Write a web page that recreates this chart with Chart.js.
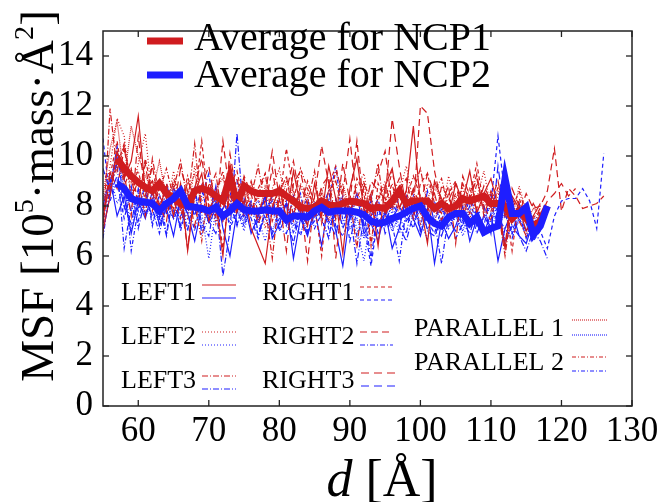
<!doctype html>
<html lang="en">
<head>
<meta charset="UTF-8" />
<title>MSF vs d</title>
<script src="https://cdn.jsdelivr.net/npm/chart.js"></script>
<style>
  html, body { margin: 0; padding: 0; background: #fff; }
</style>
</head>
<body>
<canvas id="msf-chart" width="664" height="502"></canvas>
<script>
// distance grid [Å], shared by all series
const dGrid = [55, 56, 57, 58, 59, 60, 61, 62, 63, 64,
               65, 66, 67, 68, 69, 70, 71, 72, 73, 74,
               75, 76, 77, 78, 79, 80, 81, 82, 83, 84,
               85, 86, 87, 88, 89, 90, 91, 92, 93, 94,
               95, 96, 97, 98, 99, 100, 101, 102, 103, 104,
               105, 106, 107, 108, 109, 110, 111, 112, 113, 114,
               115, 116, 117, 118, 119, 120, 121, 122, 123, 124,
               125, 126];

const xTicks = [60, 70, 80, 90, 100, 110, 120, 130];
const yTicks = [0, 2, 4, 6, 8, 10, 12, 14];

// averages
const avgNCP1 = [null, null, 9.9, 9.5, 9.2, 8.95, 8.75, 8.6, 8.9, 8.5,
                 8.3, 8.1, 8.0, 8.6, 8.7, 8.6, 8.4, 8.2, 9.2, 8.1,
                 8.8, 8.6, 8.5, 8.5, 8.5, 8.6, 8.4, 8.2, 7.95, 7.9,
                 7.95, 8.2, 8.05, 8.0, 8.1, 8.2, 8.15, 8.1, 7.9, 7.95,
                 7.9, 8.2, 8.6, 8.1, 8.2, 8.2, 8.2, 7.9, 8.1, 7.9,
                 8.0, 8.3, 8.2, 8.3, 8.4, 8.1, 8.1, 8.0, 7.5, 7.8,
                 7.5, 7.2, 7.4, 8.0];
const avgNCP2 = [null, null, 8.9, 8.7, 8.3, 8.2, 8.15, 8.1, 7.8, 8.1,
                 8.3, 8.6, 8.0, 7.95, 7.9, 7.8, 7.95, 7.6, 7.8, 8.1,
                 7.85, 7.8, 7.8, 7.85, 7.8, 7.8, 7.45, 7.6, 7.6, 7.55,
                 7.8, 7.95, 7.75, 7.8, 7.8, 7.8, 7.75, 7.65, 7.4, 7.3,
                 7.35, 7.5, 7.6, 7.75, 7.9, 8.0, 7.55, 7.3, 7.2, 7.55,
                 7.7, 7.7, 7.3, 7.55, 6.95, 7.1, 7.2, 9.1, 7.7, 7.7,
                 7.95, 6.85, 7.2, 8.0];

// NCP1 (red) individual runs
const left1_1 = [7.0, 8.4, 10.2, 9.1, 9.8, 11.6, 8.6, 9.0, 7.9, 8.8,
                 7.6, 8.9, 6.2, 8.5, 9.3, 7.4, 8.1, 6.0, 9.0, 7.8,
                 8.6, 7.1, 6.4, 5.7, 7.9, 8.8, 7.5, 9.4, 8.0, 7.2,
                 8.9, 7.6, 9.6, 8.3, 6.1, 8.7, 9.9, 7.8, 8.4, 6.4,
                 8.8, 9.5, 7.9, 8.6, 11.2, 8.1, 6.5, 9.0, 8.3, 7.6,
                 8.9, 8.2, 9.4, 7.7, 8.5, 9.1, 8.0, 6.3, 8.4, 7.9,
                 7.0, 7.6, 8.1];
const left2_1 = [8.1, 9.6, 11.5, 10.8, 8.4, 9.7, 10.9, 8.2, 9.1, 7.8,
                 9.4, 8.0, 7.5, 9.6, 8.2, 8.8, 7.3, 8.5, 9.2, 8.1,
                 7.6, 9.0, 8.4, 7.1, 8.7, 9.5, 8.0, 7.4, 8.9, 8.3,
                 7.7, 8.6, 9.1, 7.5, 8.4, 7.9, 8.8, 9.3, 7.6, 8.2,
                 9.0, 7.8, 8.5, 9.6, 8.1, 7.3, 8.9, 8.4, 7.7, 9.2,
                 8.0, 8.7, 7.5, 8.3, 9.4, 7.9, 8.6, 8.1, 7.4, 8.8,
                 7.8, 7.2];
const left3_1 = [6.9, 11.9, 9.4, 10.4, 8.3, 9.0, 7.6, 9.9, 8.4, 7.9,
                 8.7, 9.8, 8.1, 10.5, 7.7, 8.6, 9.3, 7.4, 8.2, 9.1,
                 7.9, 8.4, 9.6, 8.0, 5.9, 8.5, 9.2, 7.6, 8.8, 8.1,
                 9.4, 7.3, 8.6, 9.0, 7.8, 8.3, 6.3, 8.9, 8.2, 9.7,
                 7.6, 8.4, 9.1, 7.8, 8.6, 9.5, 8.0, 7.2, 8.8, 8.3,
                 7.7, 8.9, 8.2, 9.3, 7.6, 8.5, 7.9, 6.0, 8.1, 7.4,
                 6.8, 7.5, 7.9];
const right1_1 = [7.3, 9.2, 10.6, 8.8, 9.5, 8.1, 9.9, 8.5, 7.9, 8.9,
                  8.2, 7.5, 9.0, 8.4, 10.6, 7.9, 8.3, 6.3, 8.8, 9.4,
                  8.0, 7.6, 8.7, 9.3, 7.4, 8.2, 10.3, 8.6, 7.8, 9.0,
                  8.1, 6.0, 8.8, 9.6, 8.3, 7.6, 9.1, 8.5, 6.4, 8.9,
                  8.2, 9.4, 7.9, 8.6, 7.5, 8.9, 9.3, 8.1, 7.7, 8.5,
                  9.0, 7.8, 8.4, 9.7, 8.0, 7.4, 8.8, 8.2, 6.2, 8.3,
                  7.6, 6.9, 7.8];
const right2_1 = [7.8, 8.9, 10.1, 9.3, 7.6, 10.8, 8.4, 9.6, 8.0, 7.4,
                  9.1, 8.3, 6.3, 8.7, 9.9, 8.1, 7.6, 10.6, 8.4, 7.9,
                  9.2, 8.5, 7.3, 8.0, 9.5, 7.7, 8.6, 9.8, 8.2, 5.8,
                  8.4, 10.4, 8.9, 7.5, 9.7, 8.2, 10.6, 7.9, 8.5, 9.3,
                  10.2, 8.0, 8.6, 9.1, 7.8, 12.0, 11.7, 9.4, 8.1, 8.8,
                  6.5, 9.2, 8.4, 7.9, 8.8, 8.2, 9.0, 7.6, 8.3, 7.7,
                  8.5, 7.9, 8.0, 8.6, 10.3, 7.8, 8.7, 8.4, 7.9, 8.0,
                  8.1, 8.4];
const right3_1 = [7.5, 9.4, 8.7, 10.3, 9.0, 8.2, 9.7, 7.8, 8.9, 8.3,
                  7.9, 9.5, 8.6, 7.2, 8.8, 9.6, 8.0, 7.5, 10.1, 8.4,
                  8.1, 9.0, 7.7, 8.5, 10.2, 8.3, 6.2, 8.9, 9.4, 8.0,
                  7.6, 8.8, 9.2, 5.9, 8.5, 10.7, 8.1, 7.7, 9.0, 8.6,
                  8.3, 11.5, 9.6, 7.9, 8.7, 8.0, 9.3, 8.5, 7.4, 8.2,
                  8.9, 7.6, 8.3, 9.1, 7.8, 8.6, 8.1, 6.4, 8.7, 8.0,
                  7.4, 8.1, 7.6, 8.2, 8.5, 8.9, 8.4, 8.7];
const par1_1 = [8.4, 10.3, 11.4, 9.1, 11.2, 10.0, 9.2, 8.6, 9.8, 8.3,
                8.9, 7.8, 8.5, 9.3, 8.0, 7.6, 8.7, 9.1, 8.2, 7.9,
                8.6, 8.1, 7.5, 8.8, 8.3, 7.9, 9.0, 8.4, 7.7, 8.5,
                8.0, 8.7, 7.4, 8.2, 8.9, 7.8, 8.5, 8.1, 7.6, 8.3,
                8.8, 7.9, 8.4, 8.0, 8.6, 7.7, 8.3, 8.9, 8.1, 7.5,
                8.4, 8.0, 8.7, 7.8, 8.2, 8.5, 7.9, 8.3, 7.6, 8.1,
                7.3, 7.9, 7.7];
const par2_1 = [7.6, 8.7, 9.6, 10.5, 8.9, 9.4, 8.2, 9.0, 8.6, 9.5,
                8.3, 7.9, 9.2, 8.1, 6.6, 8.9, 8.5, 9.4, 7.6, 8.7,
                9.1, 7.8, 8.4, 9.3, 8.0, 8.6, 7.5, 8.2, 9.5, 8.7,
                7.9, 8.5, 8.0, 9.4, 8.6, 7.7, 8.3, 9.0, 6.5, 8.4,
                8.1, 8.9, 7.6, 8.3, 9.2, 8.4, 7.8, 8.6, 9.1, 7.9,
                8.5, 8.2, 7.7, 8.9, 8.3, 7.8, 8.4, 9.0, 7.9, 8.6,
                7.7, 7.1, 8.0];

// NCP2 (blue) individual runs
const left1_2 = [8.0, 9.1, 7.6, 8.4, 6.9, 8.2, 7.5, 8.6, 7.2, 7.9,
                 6.8, 8.3, 7.7, 6.6, 8.0, 7.4, 8.8, 7.1, 6.0, 7.8,
                 8.2, 6.9, 7.6, 8.4, 6.7, 7.3, 8.1, 5.9, 7.5, 6.8,
                 7.9, 6.4, 8.2, 7.0, 5.6, 7.7, 8.5, 6.9, 7.3, 6.6,
                 7.8, 6.3, 7.1, 8.4, 7.5, 6.8, 7.9, 5.7, 7.4, 6.7,
                 7.2, 8.0, 6.6, 7.5, 6.9, 7.7, 5.8, 7.1, 7.8, 6.8,
                 6.5, 7.4, 7.0];
const left2_2 = [7.2, 9.3, 8.1, 8.8, 7.0, 8.5, 7.9, 8.3, 7.4, 8.7,
                 7.6, 8.4, 7.1, 8.0, 7.7, 5.9, 7.9, 8.6, 7.3, 7.8,
                 7.0, 8.1, 7.5, 6.6, 7.9, 8.3, 7.2, 7.6, 6.9, 7.7,
                 8.2, 7.4, 6.8, 7.9, 7.3, 8.0, 7.1, 5.8, 7.6, 7.9,
                 7.2, 7.8, 6.9, 7.5, 8.1, 7.3, 6.7, 7.6, 8.0, 7.1,
                 7.7, 6.8, 7.4, 7.9, 7.0, 7.5, 8.2, 6.6, 7.3, 7.8,
                 6.9, 7.2, 7.5];
const left3_2 = [9.5, 8.6, 10.4, 7.9, 8.8, 7.1, 8.3, 7.6, 8.0, 6.8,
                 8.5, 7.2, 7.9, 8.6, 6.9, 7.5, 8.2, 5.2, 7.0, 10.9,
                 7.4, 8.1, 6.8, 7.7, 8.4, 7.0, 7.6, 6.5, 7.9, 7.3,
                 8.0, 7.5, 6.7, 8.3, 7.1, 7.8, 5.7, 7.6, 8.2, 6.9,
                 7.4, 8.0, 7.2, 6.6, 7.7, 8.3, 7.0, 6.8, 7.5, 7.9,
                 6.7, 7.3, 8.0, 6.9, 7.6, 7.1, 7.8, 6.5, 7.2, 6.8,
                 6.2, 7.0, 6.6, 5.9];
const right1_2 = [10.7, 8.2, 9.0, 7.5, 8.6, 7.8, 8.9, 7.3, 8.1, 7.7,
                  8.4, 7.0, 8.2, 7.6, 8.8, 7.3, 7.9, 8.5, 7.1, 7.8,
                  7.2, 8.0, 7.6, 8.3, 6.9, 7.5, 8.1, 7.4, 6.8, 7.9,
                  7.5, 8.2, 7.1, 7.7, 8.4, 6.6, 7.8, 7.3, 5.6, 7.6,
                  8.0, 7.2, 8.5, 7.7, 7.1, 8.2, 7.4, 6.9, 7.9, 7.5,
                  7.0, 7.8, 8.3, 7.2, 7.6, 8.1, 10.8, 8.4, 7.4, 8.1,
                  7.3, 6.6, 7.0, 6.3, 7.6, 8.2, 8.3, 8.3, 8.7, 8.2,
                  7.1, 10.1];
const right2_2 = [6.7, 8.8, 9.7, 6.3, 8.0, 7.4, 8.5, 7.9, 6.9, 8.2,
                  7.5, 8.1, 7.0, 8.7, 7.3, 6.8, 8.4, 7.6, 8.1, 7.2,
                  8.3, 7.5, 6.7, 7.9, 8.2, 7.1, 6.9, 7.8, 8.5, 7.0,
                  7.4, 7.9, 8.6, 7.2, 6.8, 7.5, 8.3, 7.7, 5.9, 7.9,
                  7.3, 8.1, 7.6, 6.9, 8.4, 7.0, 7.7, 7.4, 5.7, 7.6,
                  8.0, 7.4, 6.9, 7.8, 7.2, 8.5, 7.5, 7.1, 6.7, 7.6,
                  7.9, 7.3, 7.7];
const right3_2 = [7.9, 8.5, 9.2, 8.0, 7.3, 8.7, 7.7, 8.3, 7.5, 8.9,
                  7.8, 7.2, 8.5, 7.6, 8.1, 7.4, 6.9, 7.9, 8.6, 7.3,
                  7.7, 8.2, 7.0, 7.5, 8.0, 7.7, 7.2, 8.4, 7.6, 6.9,
                  7.8, 8.1, 7.4, 6.8, 8.2, 7.5, 7.9, 7.2, 7.6, 8.3,
                  6.9, 7.5, 8.0, 7.4, 7.8, 7.1, 8.6, 7.3, 6.8, 7.7,
                  7.4, 7.9, 7.2, 7.6, 8.0, 6.9, 9.6, 7.5, 7.0, 7.7,
                  6.7, 7.4, 7.1];
const par1_2 = [8.3, 8.9, 10.2, 8.6, 7.8, 8.4, 7.6, 8.1, 7.3, 8.0,
                7.5, 8.2, 7.7, 8.6, 7.1, 7.9, 8.3, 7.4, 7.8, 8.0,
                7.3, 7.9, 8.2, 7.5, 7.0, 7.8, 8.1, 7.2, 7.7, 6.9,
                7.6, 8.0, 7.3, 7.8, 8.3, 7.1, 7.5, 6.7, 7.9, 7.4,
                7.7, 7.0, 7.6, 8.1, 7.4, 7.8, 7.1, 7.5, 7.9, 7.2,
                7.6, 7.0, 7.8, 7.3, 7.5, 8.0, 7.2, 7.7, 6.9, 7.4,
                7.1, 6.8, 7.6];
const par2_2 = [7.0, 8.4, 10.0, 9.1, 6.2, 7.9, 8.8, 7.2, 8.5, 6.9,
                8.8, 7.6, 8.1, 7.0, 8.4, 9.3, 7.4, 7.9, 8.0, 9.0,
                7.6, 8.0, 7.3, 8.5, 7.7, 7.2, 8.2, 6.9, 7.8, 8.3,
                7.1, 7.7, 8.2, 9.6, 7.4, 7.9, 6.8, 7.6, 8.4, 7.2,
                7.8, 7.3, 5.8, 7.9, 8.3, 7.0, 7.6, 8.2, 7.1, 7.5,
                7.9, 7.2, 8.4, 7.6, 6.8, 7.4, 8.0, 7.7, 6.9, 7.5,
                7.0, 7.6, 7.2];

const RED = '#d01c1f';
const BLUE = '#1e1eff';
const SERIF = "'Liberation Serif', 'DejaVu Serif', serif";

// dash styles per run type
const dashes = {
  left1: [], left2: [1, 2], left3: [6, 2, 1, 2],
  right1: [4, 3], right2: [7, 4], right3: [8, 5],
  par1: [1, 1], par2: [4, 2, 1, 2]
};
const blueDashes = Object.assign({}, dashes, { right2: [5, 2, 1, 2] });

function toPoints(vals) {
  return dGrid.map((x, i) => ({ x: x, y: vals[i] === undefined ? null : vals[i] }));
}

function thin(vals, color, dash) {
  return {
    data: toPoints(vals), borderColor: color, borderWidth: 1.2, borderDash: dash,
    pointRadius: 0, tension: 0, spanGaps: false, order: 2
  };
}

const datasets = [
  { data: toPoints(avgNCP2), borderColor: BLUE, borderWidth: 7, pointRadius: 0, order: 0, borderJoinStyle: 'miter' },
  { data: toPoints(avgNCP1), borderColor: RED, borderWidth: 7, pointRadius: 0, order: 1, borderJoinStyle: 'miter' },
  thin(left1_1, RED, dashes.left1), thin(left2_1, RED, dashes.left2), thin(left3_1, RED, dashes.left3),
  thin(right1_1, RED, dashes.right1), thin(right2_1, RED, dashes.right2), thin(right3_1, RED, dashes.right3),
  thin(par1_1, RED, dashes.par1), thin(par2_1, RED, dashes.par2),
  thin(left1_2, BLUE, blueDashes.left1), thin(left2_2, BLUE, blueDashes.left2), thin(left3_2, BLUE, blueDashes.left3),
  thin(right1_2, BLUE, blueDashes.right1), thin(right2_2, BLUE, blueDashes.right2), thin(right3_2, BLUE, blueDashes.right3),
  thin(par1_2, BLUE, blueDashes.par1), thin(par2_2, BLUE, blueDashes.par2)
];

function seg(ctx, x1, y1, x2, y2) {
  ctx.beginPath(); ctx.moveTo(x1, y1); ctx.lineTo(x2, y2); ctx.stroke();
}

// draw text pieces one after another, superscripts smaller and raised
function richText(ctx, parts, x, y, size) {
  let cx = x;
  parts.forEach(p => {
    const s = p.sup ? size * 0.6 : size;
    ctx.font = (p.italic ? 'italic ' : '') + s + 'px ' + SERIF;
    ctx.fillText(p.t, cx, p.sup ? y - size * 0.42 : y);
    cx += ctx.measureText(p.t).width;
  });
  return cx - x;
}
function richWidth(ctx, parts, size) {
  let w = 0;
  parts.forEach(p => {
    const s = p.sup ? size * 0.6 : size;
    ctx.font = (p.italic ? 'italic ' : '') + s + 'px ' + SERIF;
    w += ctx.measureText(p.t).width;
  });
  return w;
}

const decorations = {
  id: 'decorations',
  afterDraw(chart) {
    const { ctx, chartArea: a, scales: { x, y } } = chart;
    ctx.save();
    // frame and inward ticks on all sides
    ctx.strokeStyle = '#222';
    ctx.lineWidth = 1.5;
    ctx.setLineDash([]);
    ctx.strokeRect(a.left, a.top, a.right - a.left, a.bottom - a.top);
    ctx.lineWidth = 1.3;
    x.ticks.forEach(t => {
      const px = x.getPixelForValue(t.value);
      seg(ctx, px, a.bottom, px, a.bottom - 6);
      seg(ctx, px, a.top, px, a.top + 6);
    });
    y.ticks.forEach(t => {
      const py = y.getPixelForValue(t.value);
      seg(ctx, a.left, py, a.left + 6, py);
      seg(ctx, a.right, py, a.right - 6, py);
    });

    ctx.fillStyle = '#000';
    ctx.textBaseline = 'alphabetic';
    ctx.textAlign = 'left';

    // y title
    const yParts = [{ t: 'MSF [10' }, { t: '5', sup: true }, { t: '·mass·Å' }, { t: '2', sup: true }, { t: ']' }];
    ctx.save();
    ctx.translate(53, 196);
    ctx.rotate(-Math.PI / 2);
    const yw = richWidth(ctx, yParts, 47);
    richText(ctx, yParts, -yw / 2, 0, 47);
    ctx.restore();

    // x title
    const xParts = [{ t: 'd', italic: true }, { t: ' [Å]' }];
    const xw = richWidth(ctx, xParts, 52);
    richText(ctx, xParts, 382 - xw / 2, 496, 52);

    // main legend (averages)
    ctx.lineWidth = 7;
    ctx.strokeStyle = RED; seg(ctx, 147, 41, 183, 41);
    ctx.strokeStyle = BLUE; seg(ctx, 147, 75, 183, 75);
    ctx.font = '40px ' + SERIF;
    ctx.fillText('Average for NCP1', 194, 50);
    ctx.fillText('Average for NCP2', 194, 87);

    // run-type legend
    ctx.font = '26px ' + SERIF;
    ctx.lineWidth = 1.1;
    const entries = [
      { label: 'LEFT1', key: 'left1', tx: 121, base: 300, lx: 202, lw: 34, ry: 285, by: 298 },
      { label: 'LEFT2', key: 'left2', tx: 121, base: 344, lx: 202, lw: 34, ry: 332, by: 345 },
      { label: 'LEFT3', key: 'left3', tx: 121, base: 388, lx: 202, lw: 34, ry: 376, by: 389 },
      { label: 'RIGHT1', key: 'right1', tx: 262, base: 300, lx: 360, lw: 33, ry: 287, by: 300 },
      { label: 'RIGHT2', key: 'right2', tx: 262, base: 344, lx: 360, lw: 33, ry: 332, by: 345 },
      { label: 'RIGHT3', key: 'right3', tx: 262, base: 388, lx: 361, lw: 35, ry: 373, by: 386 },
      { label: 'PARALLEL 1', key: 'par1', tx: 414, base: 336, lx: 572, lw: 35, ry: 320, by: 335 },
      { label: 'PARALLEL 2', key: 'par2', tx: 414, base: 370, lx: 572, lw: 35, ry: 357, by: 371 }
    ];
    entries.forEach(e => {
      ctx.setLineDash([]);
      ctx.fillText(e.label, e.tx, e.base);
      ctx.strokeStyle = RED; ctx.setLineDash(dashes[e.key]);
      seg(ctx, e.lx, e.ry, e.lx + e.lw, e.ry);
      ctx.strokeStyle = BLUE; ctx.setLineDash(blueDashes[e.key]);
      seg(ctx, e.lx, e.by, e.lx + e.lw, e.by);
    });
    ctx.restore();
  }
};

new Chart(document.getElementById('msf-chart'), {
  type: 'line',
  data: { datasets: datasets },
  options: {
    responsive: false,
    animation: false,
    devicePixelRatio: 1,
    layout: { padding: { top: 5, right: 32, left: 0, bottom: 0 } },
    plugins: { legend: { display: false }, tooltip: { enabled: false } },
    scales: {
      x: {
        type: 'linear', min: 55, max: 130,
        afterFit: s => { s.height = 96; },
        afterBuildTicks: s => { s.ticks = xTicks.map(v => ({ value: v })); },
        grid: { display: false, drawTicks: false },
        border: { display: false },
        ticks: { color: '#000', padding: 5, maxRotation: 0, font: { family: SERIF, size: 35 } }
      },
      y: {
        type: 'linear', min: 0, max: 15,
        afterFit: s => { s.width = 103; },
        afterBuildTicks: s => { s.ticks = yTicks.map(v => ({ value: v })); },
        grid: { display: false, drawTicks: false },
        border: { display: false },
        ticks: { color: '#000', padding: 10, font: { family: SERIF, size: 35 } }
      }
    }
  },
  plugins: [decorations]
});
</script>
</body>
</html>
